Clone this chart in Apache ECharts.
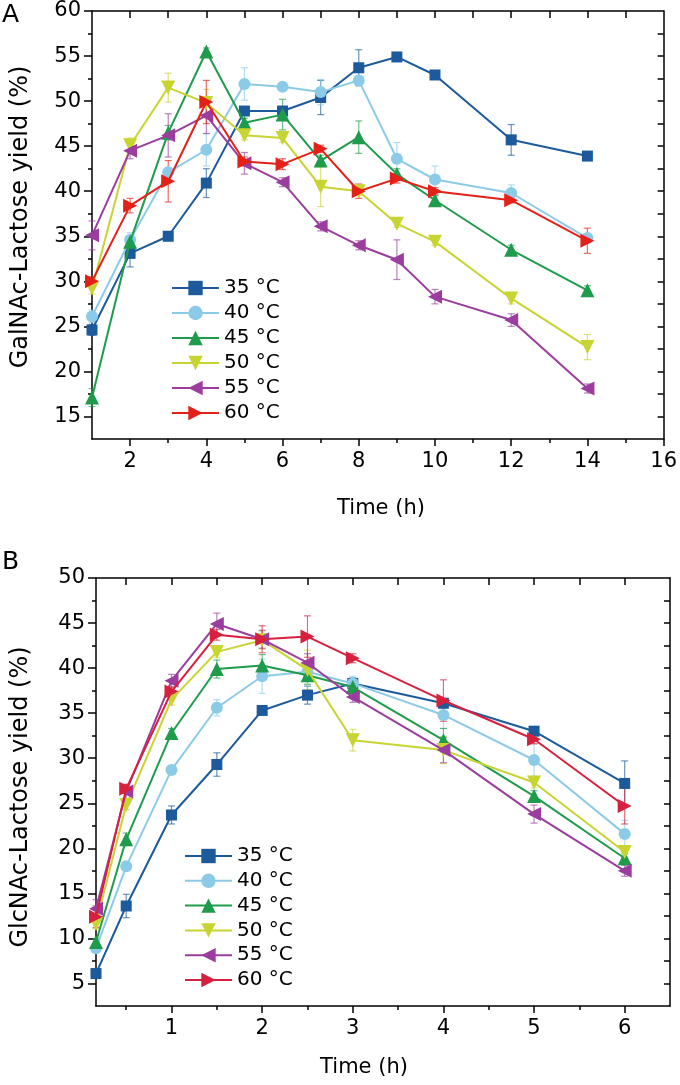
<!DOCTYPE html>
<html>
<head>
<meta charset="utf-8">
<script src="https://cdn.jsdelivr.net/npm/echarts@6/dist/echarts.min.js"></script>
<style>
html,body{margin:0;padding:0;background:#fff;}
#chart{width:680px;height:1085px;}
</style>
</head>
<body>
<div id="chart"></div>
<script>
// ---------- data ----------
const seriesNames = ['35 °C', '40 °C', '45 °C', '50 °C', '55 °C', '60 °C'];

// Panel A: GalNAc-Lactose yield (%) vs time (h)
const timeA = [1, 2, 3, 4, 5, 6, 7, 8, 9, 10, 12, 14];
const a35 = [24.6, 33.1, 35.0, 40.9, 48.9, 48.9, 50.4, 53.7, 54.9, 52.9, 45.7, 43.9];
const a40 = [26.1, 34.6, 42.1, 44.6, 51.9, 51.6, 51.0, 52.3, 43.6, 41.3, 39.8, 34.8];
const a45 = [17.1, 34.4, 46.5, 55.5, 47.6, 48.5, 43.4, 46.0, 41.9, 39.0, 33.5, 29.0];
const a50 = [29.2, 45.1, 51.5, 49.8, 46.2, 45.9, 40.5, 40.0, 36.4, 34.4, 28.1, 22.7];
const a55 = [35.1, 44.5, 46.2, 48.4, 43.1, 41.0, 36.1, 34.0, 32.4, 28.3, 25.7, 18.1];
const a60 = [30.0, 38.4, 41.1, 49.9, 43.3, 43.0, 44.7, 40.0, 41.4, 40.0, 39.0, 34.5];
// error (±)
const ea35 = [0.6, 1.5, 0.3, 1.6, 0.3, 0.4, 1.9, 2.0, 0.3, 0.3, 1.7, 0.3];
const ea40 = [0.7, 0.8, 0.5, 1.8, 1.8, 0.3, 1.4, 0.5, 1.8, 1.5, 0.9, 0.5];
const ea45 = [1.0, 0.6, 0.8, 0.4, 0.5, 1.7, 0.6, 1.8, 0.6, 0.5, 0.5, 0.5];
const ea50 = [0.6, 0.8, 1.6, 1.5, 0.5, 0.5, 2.2, 0.5, 0.4, 0.4, 0.6, 1.4];
const ea55 = [1.6, 0.9, 2.4, 2.0, 1.2, 0.5, 0.5, 0.5, 2.2, 0.8, 0.7, 0.5];
const ea60 = [0.5, 0.8, 2.3, 2.4, 0.5, 0.6, 0.4, 0.8, 0.5, 0.4, 0.3, 1.4];

// Panel B: GlcNAc-Lactose yield (%) vs time (h)
const timeB = [1 / 6, 0.5, 1, 1.5, 2, 2.5, 3, 4, 5, 6];
const b35 = [6.1, 13.6, 23.7, 29.3, 35.3, 37.0, 38.3, 36.1, 33.0, 27.2];
const b40 = [8.9, 18.0, 28.7, 35.6, 39.1, 39.6, 38.3, 34.8, 29.8, 21.6];
const b45 = [9.6, 21.0, 32.8, 39.9, 40.3, 39.2, 37.9, 32.0, 25.8, 18.9];
const b50 = [11.6, 24.8, 36.5, 41.8, 43.1, 39.8, 32.0, 30.9, 27.3, 19.6];
const b55 = [13.3, 26.3, 38.6, 44.9, 43.2, 40.6, 36.8, 30.9, 23.8, 17.5];
const b60 = [12.4, 26.6, 37.4, 43.7, 43.2, 43.5, 41.1, 36.4, 32.1, 24.7];
const eb35 = [0.4, 1.3, 1.0, 1.3, 0.4, 1.0, 0.6, 0.5, 0.4, 2.5];
const eb40 = [0.4, 0.5, 0.5, 0.9, 1.9, 1.0, 0.8, 1.5, 1.8, 1.5];
const eb45 = [0.4, 0.7, 0.5, 1.0, 1.2, 1.0, 0.7, 1.3, 0.6, 0.5];
const eb50 = [0.5, 0.5, 0.6, 0.6, 1.0, 2.2, 1.2, 1.5, 0.6, 0.6];
const eb55 = [1.0, 0.8, 0.7, 1.2, 1.0, 1.0, 0.6, 1.4, 1.0, 0.6];
const eb60 = [1.2, 0.5, 0.5, 0.6, 1.5, 2.3, 0.5, 2.3, 0.5, 2.0];

// tick values
const xTickA = [2, 4, 6, 8, 10, 12, 14, 16];
const xMinorA = [3, 5, 7, 9, 11, 13, 15];
const xTopA = [2, 3, 4, 5, 6, 7, 8, 9, 10, 11, 12, 13, 14, 15];
const yTickA = [15, 20, 25, 30, 35, 40, 45, 50, 55, 60];
const yMinorA = [17.5, 22.5, 27.5, 32.5, 37.5, 42.5, 47.5, 52.5, 57.5];
const yRightA = [15, 17.5, 20, 22.5, 25, 27.5, 30, 32.5, 35, 37.5, 40, 42.5, 45, 47.5, 50, 52.5, 55, 57.5];
const xTickB = [1, 2, 3, 4, 5, 6];
const xMinorB = [0.5, 1.5, 2.5, 3.5, 4.5, 5.5];
const xTopB = [0.5, 1, 1.5, 2, 2.5, 3, 3.5, 4, 4.5, 5, 5.5, 6];
const yTickB = [5, 10, 15, 20, 25, 30, 35, 40, 45, 50];
const yMinorB = [7.5, 12.5, 17.5, 22.5, 27.5, 32.5, 37.5, 42.5, 47.5];
const yRightB = [5, 7.5, 10, 12.5, 15, 17.5, 20, 22.5, 25, 27.5, 30, 32.5, 35, 37.5, 40, 42.5, 45, 47.5];

// ---------- styles ----------
const FONT = 'DejaVu Sans';
const colorsA = ['#1c5a9c', '#8ccbe8', '#1f9b4c', '#c8d431', '#9a3d9e', '#e32119'];
const colorsB = ['#1c5a9c', '#8ccbe8', '#1f9b4c', '#c8d431', '#9a3d9e', '#d6203e'];
const symbols = ['rect', 'circle', 'triangle', 'triangle', 'triangle', 'triangle'];
const rotates = [0, 0, 0, 180, 90, -90];
const sizes = [11, 12, 14, 14, 14, 14];

const dataA = [a35, a40, a45, a50, a55, a60];
const errA = [ea35, ea40, ea45, ea50, ea55, ea60];
const dataB = [b35, b40, b45, b50, b55, b60];
const errB = [eb35, eb40, eb45, eb50, eb55, eb60];

function hexA(hex, a) {
  const r = parseInt(hex.slice(1, 3), 16), g = parseInt(hex.slice(3, 5), 16), b = parseInt(hex.slice(5, 7), 16);
  return 'rgba(' + r + ',' + g + ',' + b + ',' + a + ')';
}

function renderErr(params, api) {
  const x = api.value(0), y = api.value(1), e = api.value(2);
  const top = api.coord([x, y + e]);
  const bot = api.coord([x, y - e]);
  const w = 3.5;
  const st = { stroke: api.visual('color'), lineWidth: 1.2 };
  return {
    type: 'group',
    children: [
      { type: 'line', shape: { x1: top[0], y1: top[1], x2: bot[0], y2: bot[1] }, style: st },
      { type: 'line', shape: { x1: top[0] - w, y1: top[1], x2: top[0] + w, y2: top[1] }, style: st },
      { type: 'line', shape: { x1: bot[0] - w, y1: bot[1], x2: bot[0] + w, y2: bot[1] }, style: st }
    ]
  };
}

const series = [];
function addPanel(times, data, errs, colors, xi, yi, tag) {
  data.forEach((vals, i) => {
    series.push({
      name: 'err' + tag + i,
      type: 'custom',
      xAxisIndex: xi, yAxisIndex: yi,
      renderItem: renderErr,
      itemStyle: { color: hexA(colors[i], 0.65) },
      data: times.map((t, k) => [t, vals[k], errs[i][k]]),
      encode: { x: 0, y: 1 },
      z: 1,
      silent: true
    });
  });
  data.forEach((vals, i) => {
    series.push({
      name: seriesNames[i],
      type: 'line',
      xAxisIndex: xi, yAxisIndex: yi,
      data: times.map((t, k) => [t, vals[k]]),
      symbol: symbols[i],
      symbolRotate: rotates[i],
      symbolSize: sizes[i],
      showAllSymbol: true,
      clip: false,
      lineStyle: { color: colors[i], width: 2 },
      itemStyle: { color: colors[i] },
      z: 2 + i * 0.01,
      silent: true,
      animation: false
    });
  });
}
addPanel(timeA, dataA, errA, colorsA, 0, 0, 'A');
addPanel(timeB, dataB, errB, colorsB, 3, 3, 'B');

const axisLineStyle = { color: '#000', width: 1.5 };
function xAxes(grid, min, max, major, minor, top) {
  return [
    {
      gridIndex: grid, type: 'value', min: min, max: max, position: 'bottom',
      axisLine: { show: true, onZero: false, lineStyle: axisLineStyle },
      axisTick: { show: true, inside: false, length: 7, customValues: major, lineStyle: { color: '#000', width: 1.5 } },
      axisLabel: { show: true, customValues: major, fontSize: 21, fontFamily: FONT, color: '#000', margin: 12 },
      splitLine: { show: false }
    },
    {
      gridIndex: grid, type: 'value', min: min, max: max, position: 'bottom',
      axisLine: { show: false },
      axisTick: { show: true, inside: false, length: 4, customValues: minor, lineStyle: { color: '#000', width: 1.5 } },
      axisLabel: { show: false },
      splitLine: { show: false }
    },
    {
      gridIndex: grid, type: 'value', min: min, max: max, position: 'top',
      axisLine: { show: true, onZero: false, lineStyle: axisLineStyle },
      axisTick: { show: true, inside: true, length: 7, customValues: top, lineStyle: { color: '#000', width: 1.5 } },
      axisLabel: { show: false },
      splitLine: { show: false }
    }
  ];
}
function yAxes(grid, min, max, major, minor, right) {
  return [
    {
      gridIndex: grid, type: 'value', min: min, max: max, position: 'left',
      axisLine: { show: true, onZero: false, lineStyle: axisLineStyle },
      axisTick: { show: true, inside: false, length: 8, customValues: major, lineStyle: { color: '#000', width: 1.5 } },
      axisLabel: { show: true, customValues: major, fontSize: 21, fontFamily: FONT, color: '#000', margin: 11 },
      splitLine: { show: false }
    },
    {
      gridIndex: grid, type: 'value', min: min, max: max, position: 'left',
      axisLine: { show: false },
      axisTick: { show: true, inside: false, length: 4, customValues: minor, lineStyle: { color: '#000', width: 1.5 } },
      axisLabel: { show: false },
      splitLine: { show: false }
    },
    {
      gridIndex: grid, type: 'value', min: min, max: max, position: 'right',
      axisLine: { show: true, onZero: false, lineStyle: axisLineStyle },
      axisTick: { show: true, inside: true, length: 6, customValues: right, lineStyle: { color: '#000', width: 1.5 } },
      axisLabel: { show: false },
      splitLine: { show: false }
    }
  ];
}

function legendData(colors) {
  return seriesNames.map((n, i) => ({
    name: n,
    itemStyle: { color: colors[i] },
    lineStyle: { color: colors[i], width: 2 }
  }));
}

const option = {
  backgroundColor: '#fff',
  animation: false,
  grid: [
    { left: 92, top: 11, width: 575, height: 428, containLabel: false },
    { left: 96, top: 578, width: 574, height: 428, containLabel: false }
  ],
  xAxis: [].concat(
    xAxes(0, 1, 16, xTickA, xMinorA, xTopA),
    xAxes(1, 1 / 6, 6.5, xTickB, xMinorB, xTopB)
  ),
  yAxis: [].concat(
    yAxes(0, 12.5, 60, yTickA, yMinorA, yRightA),
    yAxes(1, 2.5, 50, yTickB, yMinorB, yRightB)
  ),
  legend: [
    {
      orient: 'vertical', left: 166, top: 273,
      itemWidth: 47, itemHeight: 18, itemGap: 5,
      textStyle: { fontSize: 20, fontFamily: FONT, color: '#000' },
      data: legendData(colorsA),
      selectedMode: false
    },
    {
      orient: 'vertical', left: 179, top: 841,
      itemWidth: 47, itemHeight: 18, itemGap: 4.8,
      textStyle: { fontSize: 20, fontFamily: FONT, color: '#000' },
      data: legendData(colorsB),
      selectedMode: false
    }
  ],
  graphic: [
    { type: 'text', left: 2, top: 3, style: { text: 'A', fontSize: 25, fontFamily: FONT, fill: '#000' } },
    { type: 'text', left: 2, top: 550, style: { text: 'B', fontSize: 25, fontFamily: FONT, fill: '#000' } },
    { type: 'text', x: 21, y: 217, rotation: Math.PI / 2,
      style: { text: 'GalNAc-Lactose yield (%)', fontSize: 24, fontFamily: FONT, fill: '#000', align: 'center', verticalAlign: 'middle' } },
    { type: 'text', x: 21, y: 797, rotation: Math.PI / 2,
      style: { text: 'GlcNAc-Lactose yield (%)', fontSize: 24, fontFamily: FONT, fill: '#000', align: 'center', verticalAlign: 'middle' } },
    { type: 'text', x: 381, y: 509,
      style: { text: 'Time (h)', fontSize: 21, fontFamily: FONT, fill: '#000', align: 'center', verticalAlign: 'middle' } },
    { type: 'text', x: 364, y: 1068,
      style: { text: 'Time (h)', fontSize: 21, fontFamily: FONT, fill: '#000', align: 'center', verticalAlign: 'middle' } }
  ],
  series: series
};

const chart = echarts.init(document.getElementById('chart'), null, { renderer: 'canvas', width: 680, height: 1085 });
chart.setOption(option);
</script>
</body>
</html>
